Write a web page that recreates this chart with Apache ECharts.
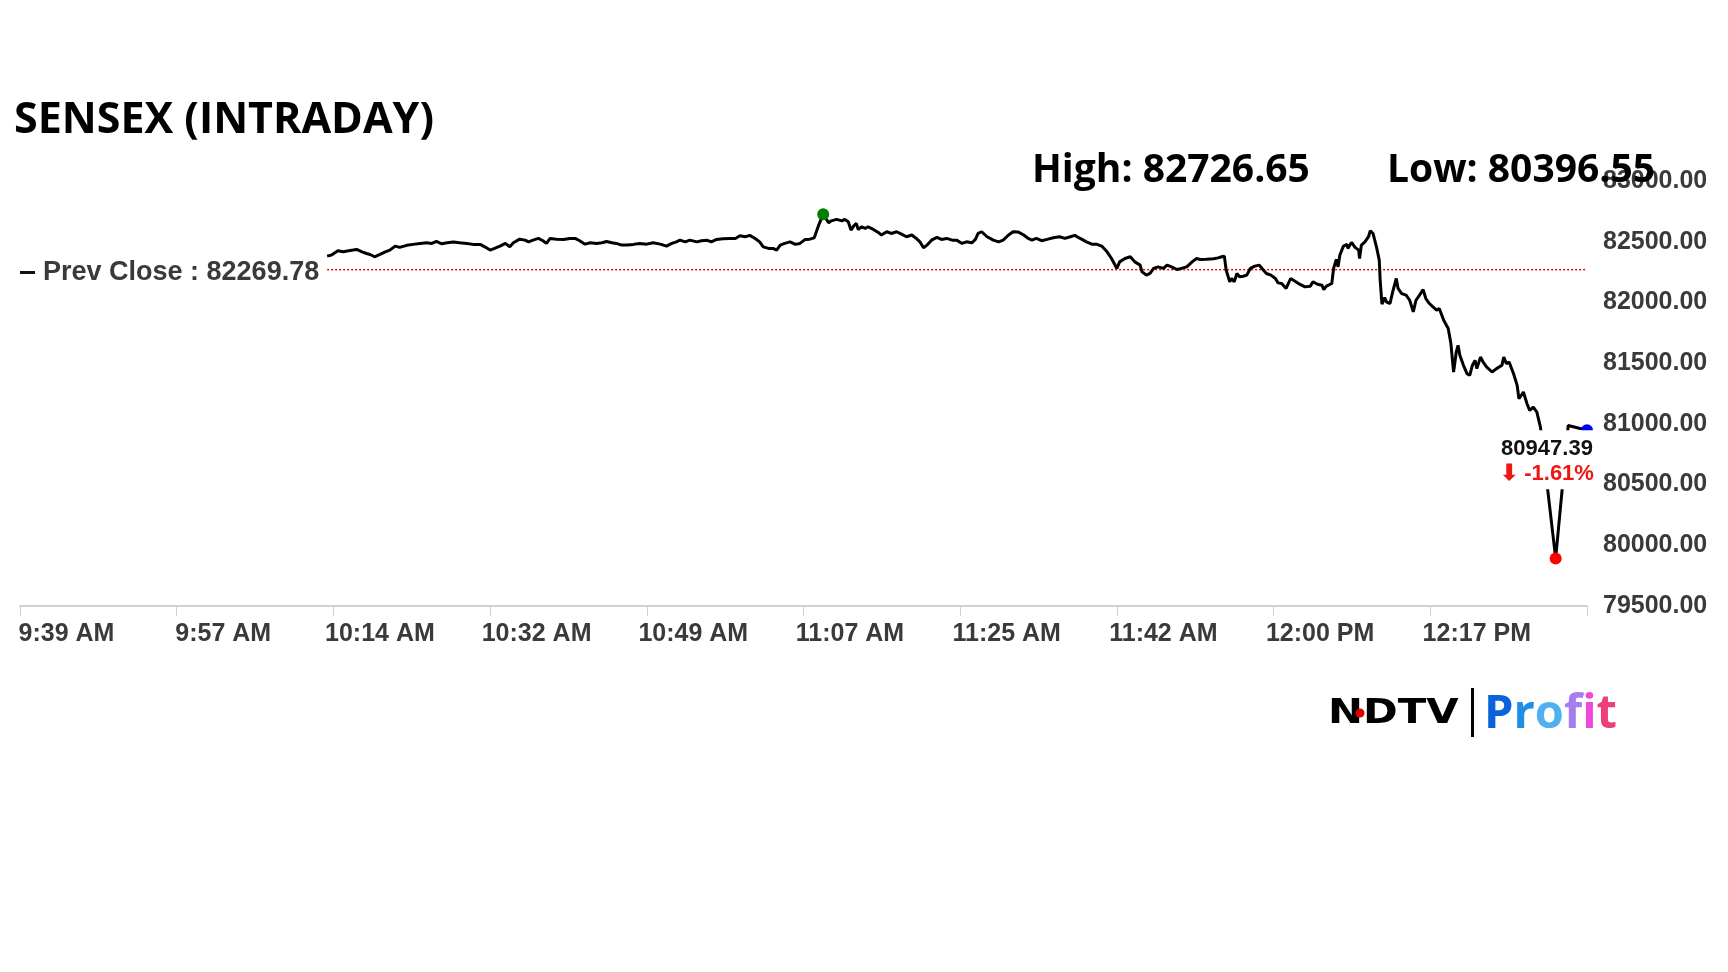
<!DOCTYPE html>
<html><head><meta charset="utf-8">
<script src="https://cdn.jsdelivr.net/npm/echarts@6/dist/echarts.min.js"></script>
<style>html,body{margin:0;padding:0;background:#fff}#c{width:1728px;height:972px}</style>
</head><body><div id="c"></div>
<script>
const chartTitle = 'SENSEX (INTRADAY)';
const dayHigh = 82726.65;
const dayLow = 80396.55;
const prevClose = 82269.78;
const tickStep = 17.5; // minutes between x ticks
const xTickLabels = ['9:39 AM','9:57 AM','10:14 AM','10:32 AM','10:49 AM','11:07 AM','11:25 AM','11:42 AM','12:00 PM','12:17 PM',''];
const yTickMin = 79500, yTickMax = 83000, yTickStep = 500;

// minutes after 9:39 AM
const minutesFromStart = [
34.3,34.8,35.5,36.1,36.7,37.2,37.6,38.2,38.7,39.1,39.6,40.2,40.8,41.3,41.9,42.4,43.2,43.9,44.7,45.4,
46.0,46.5,47.1,47.7,48.4,49.1,49.9,50.6,51.4,51.9,52.5,53.0,53.6,54.2,54.7,55.1,55.8,56.4,56.8,57.3,
57.9,58.4,58.8,59.2,59.9,60.7,61.4,62.0,62.5,63.1,63.7,64.4,65.0,65.5,66.1,66.6,67.2,67.8,68.5,69.2,
70.0,70.7,71.5,72.2,72.8,73.3,73.7,74.3,74.8,75.6,76.1,76.7,77.2,77.8,78.5,79.3,79.9,80.4,81.0,81.5,
82.1,82.6,83.0,83.6,84.1,84.5,84.9,85.4,86.0,86.6,87.1,87.7,88.2,88.7,89.2,89.7,90.3,90.6,91.2,91.8,
92.1,92.5,92.8,93.1,93.4,93.6,94.0,94.4,94.7,95.3,95.9,96.2,96.8,97.3,97.9,98.5,99.0,99.6,100.1,100.5,
100.9,101.3,101.8,102.4,102.9,103.5,104.1,104.6,105.2,105.7,106.3,106.7,107.0,107.4,108.0,108.7,109.3,109.8,110.4,110.9,
111.5,112.1,112.6,113.0,113.5,114.1,114.7,115.4,116.1,116.7,117.3,117.8,118.4,119.1,119.7,120.2,120.8,121.4,121.9,122.5,
122.8,123.4,124.0,124.5,125.1,125.3,125.8,126.2,126.6,127.1,127.7,128.1,128.6,129.2,129.7,130.3,130.9,131.4,131.8,132.0,
132.5,133.3,133.8,134.2,134.5,134.7,135.1,135.3,135.6,135.9,136.2,136.6,137.0,137.4,137.9,138.4,138.8,139.2,139.7,140.2,
140.5,140.9,141.4,141.9,142.4,142.9,143.5,144.1,144.4,144.9,145.4,145.6,145.9,146.5,146.7,147.0,147.2,147.4,147.8,148.2,
148.3,148.7,149.1,149.5,149.6,149.8,150.2,150.6,150.8,151.1,151.5,151.8,151.9,152.1,152.4,152.6,153.0,153.3,153.7,153.9,
154.3,154.8,155.2,155.6,155.9,156.3,156.7,157.0,157.4,157.8,158.2,158.5,159.0,159.5,159.8,160.1,160.4,160.6,160.8,161.2,
161.6,161.9,162.2,162.5,162.7,163.1,163.4,163.8,164.4,164.9,165.5,165.7,166.0,166.3,166.8,167.2,167.4,167.9,168.3,168.6,
169.0,169.4,169.8,171.5,172.9,175.0
];
const sensexValues = [
82381,82390,82425,82417,82425,82431,82436,82417,82403,82395,82376,82395,82417,82431,82464,82453,82470,82478,82486,82491,
82486,82502,82483,82491,82497,82491,82486,82478,82478,82458,82431,82445,82464,82486,82458,82491,82521,82513,82499,82513,
82527,82508,82486,82527,82521,82519,82527,82527,82508,82480,82491,82486,82491,82502,82491,82486,82472,82472,82478,82486,
82480,82491,82480,82464,82486,82499,82513,82499,82513,82499,82508,82513,82499,82519,82524,82527,82527,82549,82541,82552,
82527,82499,82458,82445,82445,82431,82472,82486,82499,82478,82486,82519,82521,82532,82637,82726.65,82656,82672,82684,82672,
82684,82664,82596,82629,82651,82601,82623,82609,82623,82601,82574,82555,82582,82568,82582,82560,82541,82555,82527,82499,
82450,82472,82513,82535,82519,82527,82513,82513,82486,82499,82491,82519,82568,82582,82541,82513,82499,82513,82555,82582,
82579,82555,82527,82513,82527,82508,82519,82532,82541,82527,82541,82552,82527,82499,82480,82480,82464,82417,82362,82280,
82334,82362,82376,82334,82307,82252,82225,82239,82280,82293,82280,82307,82293,82271,82280,82293,82334,82362,82354,82367,
82356,82359,82367,82376,82381,82266,82170,82197,82170,82238,82211,82216,82225,82280,82299,82307,82271,82238,82225,82197,
82161,82156,82115,82197,82175,82150,82128,82134,82170,82150,82142,82106,82134,82156,82280,82354,82293,82390,82464,82478,
82445,82494,82453,82431,82362,82472,82499,82541,82590,82568,82453,82348,82183,81985,82040,82004,81991,82087,82197,82115,
82073,82060,82018,81922,82018,82060,82106,82032,81991,81963,81936,81950,81853,81785,81661,81427,81592,81647,81565,81482,
81413,81400,81482,81523,81455,81550,81509,81468,81427,81455,81482,81550,81496,81509,81413,81317,81207,81262,81166,81111,
81138,81097,80973,79892,80987,80947.39
];

const linePts = minutesFromStart.map((t, i) => [t, sensexValues[i]]);
let hi = 0, lo = 0;
sensexValues.forEach((v, i) => { if (v > sensexValues[hi]) hi = i; if (v < sensexValues[lo]) lo = i; });
const last = sensexValues.length - 1;
const lastVal = sensexValues[last];
const pct = (lastVal - prevClose) / prevClose * 100;
const prevName = 'Prev Close : ' + prevClose.toFixed(2);
const FONT = "'Liberation Sans', Arial, sans-serif";
const HEAD = "'Open Sans', sans-serif";

// logo "Profit" letters with a left-to-right colour sweep
const profitText = 'Profit';
const profitColors = ['#0a63d8', '#1f8fe6', '#4fb0f0', '#a77df0', '#f048dc', '#ef3f7a'];
const profitFont = "bold 47px 'Open Sans', sans-serif";
const mctx = document.createElement('canvas').getContext('2d');
mctx.font = profitFont;
let px = 1484;
const profitGraphics = profitText.split('').map((ch, i) => {
  const g = {type: 'text', x: px, y: 691, z: 10,
    style: {text: ch, x: 0, y: 0, verticalAlign: 'top', fill: profitColors[i], font: profitFont}};
  px += mctx.measureText(ch).width;
  return g;
});

const chart = echarts.init(document.getElementById('c'), null, {renderer: 'canvas'});
chart.setOption({
  animation: false,
  backgroundColor: '#fff',
  title: [
    {text: chartTitle, left: 14, top: 99, padding: 0,
     textStyle: {fontFamily: HEAD, fontWeight: 700, fontSize: 43, color: '#000'}},
    {text: 'High: ' + dayHigh.toFixed(2), left: 1032, top: 151, padding: 0,
     textStyle: {fontFamily: HEAD, fontWeight: 700, fontSize: 39, color: '#000'}},
    {text: 'Low: ' + dayLow.toFixed(2), left: 1387, top: 151, padding: 0,
     textStyle: {fontFamily: HEAD, fontWeight: 700, fontSize: 39, color: '#000'}}
  ],
  legend: {
    left: 20, top: 259, padding: 0, selectedMode: false,
    itemWidth: 15, itemHeight: 3,
    data: [{name: prevName, icon: 'rect', itemStyle: {color: '#111'}}],
    textStyle: {fontFamily: FONT, fontWeight: 'bold', fontSize: 27, color: '#3a3a3a', padding: [0, 0, 0, 3]}
  },
  grid: {left: 20, right: 141, top: 181, bottom: 366, outerBoundsMode: 'none', containLabel: false},
  xAxis: {
    type: 'value', min: 0, max: (xTickLabels.length - 1) * tickStep, interval: tickStep,
    splitLine: {show: false},
    axisLine: {show: true, lineStyle: {color: '#d0d0d0', width: 2}},
    axisTick: {show: true, length: 10, lineStyle: {color: '#d0d0d0', width: 1}},
    axisLabel: {
      align: 'center', margin: 16, padding: [0, 0, 0, 93],
      fontFamily: FONT, fontWeight: 'bold', fontSize: 25, color: '#3a3a3a',
      showMaxLabel: true,
      formatter: v => xTickLabels[Math.round(v / tickStep)] || ''
    }
  },
  yAxis: {
    type: 'value', position: 'right', min: yTickMin, max: yTickMax, interval: yTickStep,
    splitLine: {show: false}, axisLine: {show: false}, axisTick: {show: false},
    axisLabel: {margin: 16, padding: [4, 0, 0, 0], fontFamily: FONT, fontWeight: 'bold', fontSize: 25, color: '#3a3a3a',
      formatter: v => v.toFixed(2)}
  },
  series: [
    {
      name: prevName, type: 'line', z: 1, symbol: 'none', silent: true,
      data: [[minutesFromStart[0], prevClose], [minutesFromStart[last], prevClose]],
      lineStyle: {color: '#e01010', width: 1.5, type: [2, 2]}, itemStyle: {color: '#e01010'}
    },
    {
      name: 'SENSEX', type: 'line', z: 2, symbol: 'none', smooth: false, sampling: null,
      data: linePts, lineStyle: {color: '#000', width: 3}, itemStyle: {color: '#000'}
    },
    {
      name: 'marks', type: 'scatter', z: 5, symbolSize: 12, itemStyle: {opacity: 1},
      data: [
        {value: linePts[hi], itemStyle: {color: '#008000', opacity: 1}},
        {value: linePts[lo], itemStyle: {color: '#ff0000', opacity: 1}},
        {value: linePts[last], itemStyle: {color: '#0000ff', opacity: 1},
         label: {show: true, position: [-34, 6], align: 'center', verticalAlign: 'top', opacity: 1,
           backgroundColor: '#ffffff', padding: [6, 6, 3, 6],
           fontFamily: FONT, fontWeight: 'bold', fontSize: 22, color: '#111',
           formatter: '{a|' + lastVal.toFixed(2) + '}\n{b|\u2B07 ' + pct.toFixed(2) + '%}',
           rich: {
             a: {fontFamily: FONT, fontWeight: 'bold', fontSize: 22, lineHeight: 25, color: '#111'},
             b: {fontFamily: FONT, fontWeight: 'bold', fontSize: 22, lineHeight: 25, color: '#ee1515'}
           }}}
      ]
    }
  ],
  graphic: [
    {type: 'text', x: 1328, y: 697, scaleX: 1.23, z: 10,
     style: {text: 'NDTV', x: 0, y: 0, verticalAlign: 'top', fill: '#000',
       font: "bold 34px 'DejaVu Sans', sans-serif"}},
    {type: 'circle', shape: {cx: 1360, cy: 713, r: 4.5}, style: {fill: '#e00000'}, z: 11},
    {type: 'rect', shape: {x: 1471, y: 688, width: 3, height: 49}, style: {fill: '#000'}, z: 10}
  ].concat(profitGraphics)
});
</script></body></html>
